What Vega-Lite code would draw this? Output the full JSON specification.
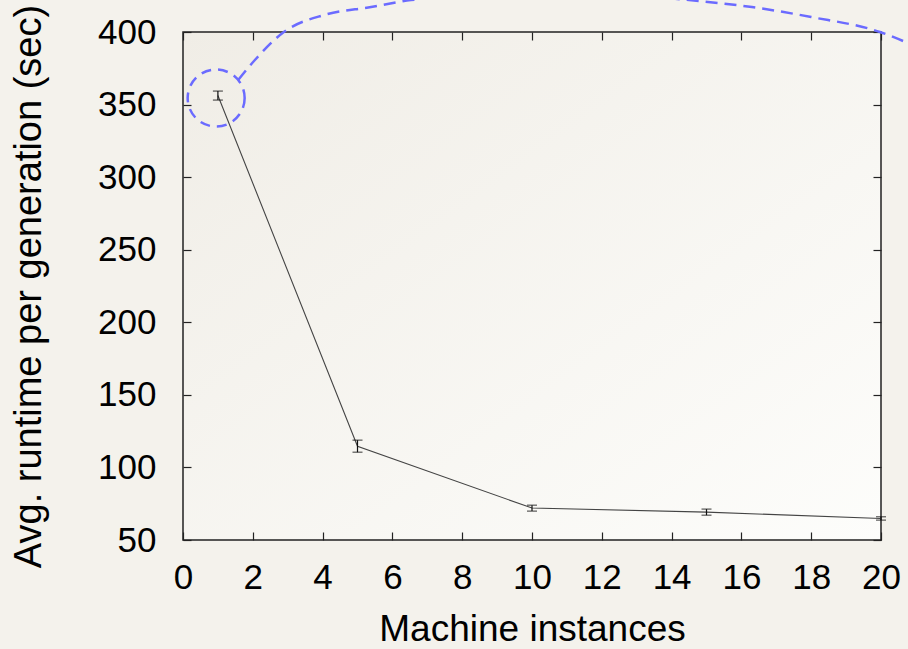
{
  "$schema": "https://vega.github.io/schema/vega-lite/v6.json",
  "width": 698,
  "height": 508,
  "autosize": {"type": "none"},
  "padding": {"left": 183, "top": 32, "right": 27, "bottom": 109},
  "background": "#f4f2ec",
  "config": {
    "view": {
      "stroke": "#222",
      "strokeWidth": 1.5,
      "fill": {"gradient": "linear", "x1": 0, "y1": 0, "x2": 1, "y2": 1, "stops": [{"offset": 0, "color": "#f0ede6"}, {"offset": 1, "color": "#fdfdfb"}]}
    },
    "axis": {
      "labelFont": "Liberation Sans",
      "titleFont": "Liberation Sans",
      "labelColor": "#000",
      "titleColor": "#000",
      "labelFontSize": 35,
      "titleFontSize": 38,
      "titleFontWeight": "normal",
      "grid": false,
      "tickColor": "#222",
      "domainColor": "#222",
      "domainWidth": 1.5,
      "tickWidth": 1.2,
      "tickSize": 8
    }
  },
  "datasets": {
    "runs": [
      {"machines": 1, "runtime": 356.2, "low": 353.1, "high": 359.3},
      {"machines": 5, "runtime": 114.6, "low": 110.5, "high": 118.8},
      {"machines": 10, "runtime": 72.0, "low": 69.9, "high": 74.0},
      {"machines": 15, "runtime": 69.2, "low": 67.1, "high": 71.3},
      {"machines": 20, "runtime": 64.8, "low": 63.7, "high": 66.0}
    ],
    "callout": [
      {"cx": 1.58, "cy": 366.9},
      {"cx": 2.06, "cy": 380.7},
      {"cx": 2.89, "cy": 400.0},
      {"cx": 4.04, "cy": 411.7},
      {"cx": 5.39, "cy": 417.2},
      {"cx": 6.53, "cy": 422.0},
      {"cx": 10.5, "cy": 428.0},
      {"cx": 14.5, "cy": 422.0},
      {"cx": 16.3, "cy": 417.2},
      {"cx": 18.0, "cy": 410.3},
      {"cx": 19.97, "cy": 400.0},
      {"cx": 20.77, "cy": 392.4}
    ],
    "ring": [{"rx": 0.95, "ry": 354.5}]
  },
  "resolve": {"axis": {"x": "independent", "y": "independent"}},
  "layer": [
    {
      "data": {"name": "runs"},
      "layer": [
        {
          "mark": {"type": "line", "color": "#444", "strokeWidth": 1.1},
          "encoding": {
            "x": {
              "field": "machines", "type": "quantitative",
              "scale": {"domain": [0, 20], "nice": false, "zero": false},
              "axis": {"values": [0, 2, 4, 6, 8, 10, 12, 14, 16, 18, 20], "title": "Machine instances", "titleFontSize": 37, "labelPadding": 20, "titlePadding": 16, "labelFlush": false, "ticks": false, "domain": false}
            },
            "y": {
              "field": "runtime", "type": "quantitative",
              "scale": {"domain": [50, 400], "nice": false, "zero": false},
              "axis": {"values": [50, 100, 150, 200, 250, 300, 350, 400], "title": "Avg. runtime per generation (sec)", "labelPadding": 27, "titlePadding": 49, "labelFlush": false, "ticks": false, "domain": false}
            }
          }
        },
        {
          "mark": {"type": "rule", "color": "#111", "strokeWidth": 1.2},
          "encoding": {
            "x": {"field": "machines", "type": "quantitative"},
            "y": {"field": "low", "type": "quantitative"},
            "y2": {"field": "high"}
          }
        },
        {
          "mark": {"type": "tick", "orient": "horizontal", "color": "#111", "size": 10, "thickness": 1.2},
          "encoding": {
            "x": {"field": "machines", "type": "quantitative"},
            "y": {"field": "low", "type": "quantitative"}
          }
        },
        {
          "mark": {"type": "tick", "orient": "horizontal", "color": "#111", "size": 10, "thickness": 1.2},
          "encoding": {
            "x": {"field": "machines", "type": "quantitative"},
            "y": {"field": "high", "type": "quantitative"}
          }
        }
      ]
    },
    {
      "data": {"name": "callout"},
      "mark": {"type": "line", "color": "#6b6bff", "strokeWidth": 2.5, "strokeDash": [12, 7], "interpolate": "monotone", "clip": false},
      "encoding": {
        "x": {"field": "cx", "type": "quantitative", "axis": {"orient": "top", "offset": -8, "values": [0, 2, 4, 6, 8, 10, 12, 14, 16, 18, 20], "labels": false, "title": null, "domain": false}},
        "y": {"field": "cy", "type": "quantitative", "axis": {"orient": "right", "offset": -8, "values": [50, 100, 150, 200, 250, 300, 350, 400], "labels": false, "title": null, "domain": false}}
      }
    },
    {
      "data": {"name": "ring"},
      "mark": {"type": "point", "shape": "circle", "filled": false, "size": 3249, "stroke": "#6b6bff", "strokeWidth": 2.5, "strokeDash": [10, 7], "opacity": 1},
      "encoding": {
        "x": {"field": "rx", "type": "quantitative", "axis": {"orient": "bottom", "offset": -8, "values": [0, 2, 4, 6, 8, 10, 12, 14, 16, 18, 20], "labels": false, "title": null, "domain": false}},
        "y": {"field": "ry", "type": "quantitative", "axis": {"orient": "left", "offset": -8, "values": [50, 100, 150, 200, 250, 300, 350, 400], "labels": false, "title": null, "domain": false}}
      }
    }
  ]
}
